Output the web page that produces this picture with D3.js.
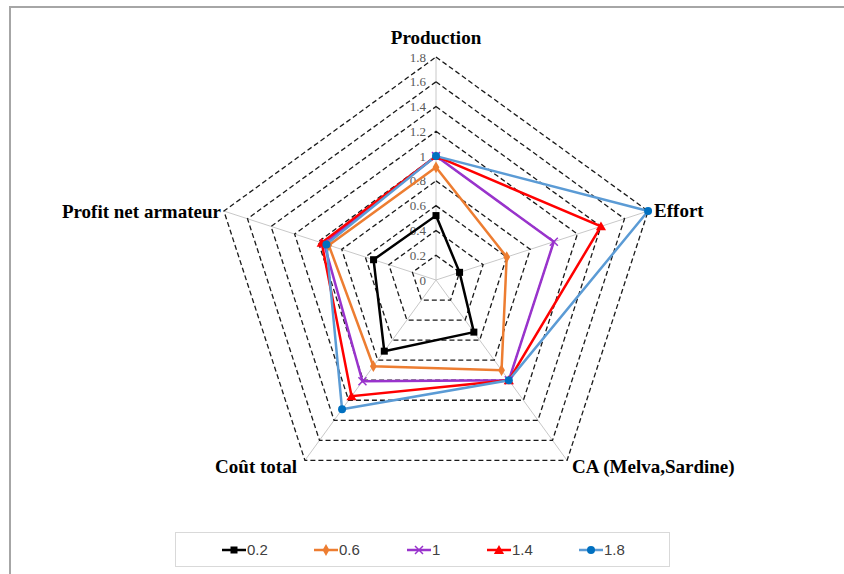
<!DOCTYPE html>
<html>
<head>
<meta charset="utf-8">
<script src="https://cdn.jsdelivr.net/npm/d3@7"></script>
<style>
  body { margin: 0; background: #fff; }
  svg { display: block; }
</style>
</head>
<body>
<div id="chart"></div>
<script>
// Axes of the radar, clockwise from the top
const axes = ['Production', 'Effort', 'CA (Melva,Sardine)', 'Coût total', 'Profit net armateur'];
const ticks = [0, 0.2, 0.4, 0.6, 0.8, 1, 1.2, 1.4, 1.6, 1.8];
const seriesNames = ['0.2', '0.6', '1', '1.4', '1.8'];

// values per series, same order as axes
const s02 = [0.52, 0.2, 0.52, 0.71, 0.53];
const s06 = [0.91, 0.6, 0.9, 0.86, 0.91];
const s10 = [1.0, 1.0, 1.0, 1.01, 0.95];
const s14 = [1.0, 1.4, 1.0, 1.16, 0.97];
const s18 = [1.0, 1.8, 1.0, 1.29, 0.93];
const seriesValues = [s02, s06, s10, s14, s18];

const width = 844, height = 574;
const cx = 436, cy = 280, R = 223;

const colors = ['#000000', '#ED7D31', '#9933CC', '#FF0000', '#5B9BD5'];
const markerColors = ['#000000', '#ED7D31', '#9933CC', '#FF0000', '#0070C0'];
const markerTypes = ['square', 'diamond', 'x', 'triangle', 'circle'];

const svg = d3.select('#chart').append('svg')
  .attr('width', width)
  .attr('height', height);

// frame (only top and left edges show in the picture)
svg.append('path')
  .attr('d', `M10,${height} L10,7 L${width},7`)
  .attr('fill', 'none')
  .attr('stroke', '#a6a6a6')
  .attr('stroke-width', 2);

const r = d3.scaleLinear().domain([0, 1.8]).range([0, R]);
const angle = i => -Math.PI / 2 + i * 2 * Math.PI / axes.length;
const pt = (v, i) => [cx + r(v) * Math.cos(angle(i)), cy + r(v) * Math.sin(angle(i))];

const g = svg.append('g');

// spokes
axes.forEach((a, i) => {
  const [x2, y2] = pt(1.8, i);
  g.append('line')
    .attr('x1', cx).attr('y1', cy)
    .attr('x2', x2).attr('y2', y2)
    .attr('stroke', '#c8c8c8')
    .attr('stroke-width', 1);
});

// dashed grid pentagons
ticks.filter(t => t > 0).forEach(t => {
  const pts = axes.map((a, i) => pt(t, i));
  g.append('path')
    .attr('d', d3.line()(pts) + 'Z')
    .attr('fill', 'none')
    .attr('stroke', '#1a1a1a')
    .attr('stroke-width', 1.3)
    .attr('stroke-dasharray', '5,3');
});

// tick labels along the top axis
g.selectAll('.tick-label')
  .data(ticks)
  .enter()
  .append('text')
  .attr('class', 'tick-label')
  .attr('x', cx - 10)
  .attr('y', d => cy - r(d))
  .attr('dy', '0.35em')
  .attr('text-anchor', 'end')
  .style('font-family', '"Liberation Serif", "Times New Roman", serif')
  .style('font-size', '13px')
  .style('fill', '#595959')
  .text(d => d);

// series lines
const line = d3.line().curve(d3.curveLinearClosed);
seriesValues.forEach((vals, k) => {
  const pts = vals.map((v, i) => pt(v, i));
  g.append('path')
    .attr('d', line(pts))
    .attr('fill', 'none')
    .attr('stroke', colors[k])
    .attr('stroke-width', 2.5)
    .attr('stroke-linejoin', 'miter');
});

function drawMarker(sel, type, x, y, color) {
  if (type === 'square') {
    sel.append('rect').attr('x', x - 3.5).attr('y', y - 3.5).attr('width', 7).attr('height', 7).attr('fill', color);
  } else if (type === 'diamond') {
    sel.append('path').attr('d', d3.symbol(d3.symbolDiamond, 40)()).attr('transform', `translate(${x},${y})`).attr('fill', color);
  } else if (type === 'x') {
    sel.append('path').attr('d', `M${x - 4},${y - 4}L${x + 4},${y + 4}M${x - 4},${y + 4}L${x + 4},${y - 4}`)
      .attr('stroke', color).attr('stroke-width', 1.5);
  } else if (type === 'triangle') {
    sel.append('path').attr('d', d3.symbol(d3.symbolTriangle, 45)()).attr('transform', `translate(${x},${y + 1})`).attr('fill', color);
  } else {
    sel.append('circle').attr('cx', x).attr('cy', y).attr('r', 4).attr('fill', color);
  }
}

// markers
seriesValues.forEach((vals, k) => {
  vals.forEach((v, i) => {
    const [x, y] = pt(v, i);
    drawMarker(g, markerTypes[k], x, y, markerColors[k]);
  });
});

// axis labels
const labelStyle = s => s
  .style('font-family', '"Liberation Serif", "Times New Roman", serif')
  .style('font-size', '19px')
  .style('font-weight', 'bold')
  .style('fill', '#000');

const labelPos = [
  { dx: 0, dy: -13, anchor: 'middle' },
  { dx: 6, dy: 6, anchor: 'start' },
  { dx: 5, dy: 13, anchor: 'start' },
  { dx: -8, dy: 13, anchor: 'end' },
  { dx: -3, dy: 7, anchor: 'end' }
];
axes.forEach((a, i) => {
  const [x, y] = pt(1.8, i);
  g.append('text')
    .attr('x', x + labelPos[i].dx)
    .attr('y', y + labelPos[i].dy)
    .attr('text-anchor', labelPos[i].anchor)
    .call(labelStyle)
    .text(a);
});

// legend
const legend = svg.append('g');
legend.append('rect')
  .attr('x', 175.5).attr('y', 532.5)
  .attr('width', 494).attr('height', 34)
  .attr('fill', '#fff')
  .attr('stroke', '#d9d9d9');

const legendX = d3.scaleOrdinal().domain(seriesNames).range([222, 314, 407, 487, 579]);
seriesNames.forEach((name, k) => {
  const x0 = legendX(name), y0 = 550;
  legend.append('line')
    .attr('x1', x0).attr('x2', x0 + 24)
    .attr('y1', y0).attr('y2', y0)
    .attr('stroke', colors[k])
    .attr('stroke-width', 2.5);
  drawMarker(legend, markerTypes[k], x0 + 12, y0, markerColors[k]);
  legend.append('text')
    .attr('x', x0 + 25)
    .attr('y', y0)
    .attr('dy', '0.35em')
    .style('font-family', '"Liberation Sans", Arial, sans-serif')
    .style('font-size', '15px')
    .style('fill', '#404040')
    .text(name);
});
</script>
</body>
</html>
